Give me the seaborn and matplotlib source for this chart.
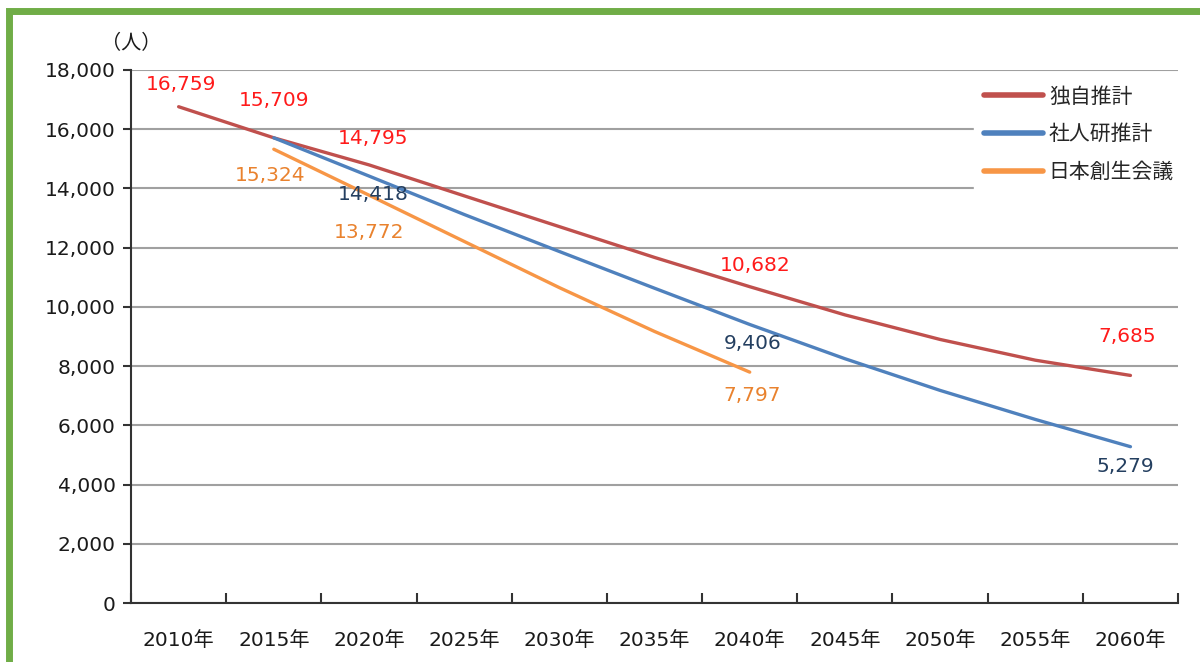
import numpy as np
import pandas as pd
import matplotlib
matplotlib.use('Agg')
import matplotlib.pyplot as plt
import seaborn as sns
from matplotlib.patches import Rectangle

# data (people)
years = [2010, 2015, 2020, 2025, 2030, 2035, 2040, 2045, 2050, 2055, 2060]
year_labels = [f'{y}年' for y in years]
dokuji = [16759, 15709, 14795, 13750, 12710, 11670, 10682, 9730, 8900, 8200, 7685]
shajinken = [np.nan, 15709, 14418, 13120, 11870, 10630, 9406, 8250, 7180, 6200, 5279]
sousei = [np.nan, 15324, 13772, 12210, 10650, 9170, 7797, np.nan, np.nan, np.nan, np.nan]
series_names = ['独自推計', '社人研推計', '日本創生会議']

df = pd.DataFrame({'year': years, series_names[0]: dokuji,
                   series_names[1]: shajinken, series_names[2]: sousei})
long = df.melt(id_vars='year', var_name='推計', value_name='人').dropna()

line_colors = ['#C0504D', '#4F81BD', '#F79646']
text_colors = ['#FF1A1A', '#243F60', '#E9822E']

# which values get a label and how far it sits from the point (points)
labels = [
    (0, 2010, (2, 16)), (0, 2015, (0, 27)), (0, 2020, (3, 19)),
    (0, 2040, (4, 15)), (0, 2060, (-2, 28)),
    (1, 2020, (3, -13)), (1, 2040, (2, -14)), (1, 2060, (-4, -14)),
    (2, 2015, (-3, -19)), (2, 2020, (0, -27)), (2, 2040, (2, -17)),
]

sns.set_style('white')
plt.rcParams['font.family'] = ['DejaVu Sans', 'Noto Sans CJK JP']

fig = plt.figure(figsize=(12, 6.62), dpi=100)
ax = fig.add_axes([0.1092, 0.0891, 0.8725, 0.8052])

sns.lineplot(data=long, x='year', y='人', hue='推計', hue_order=series_names,
             palette=line_colors, linewidth=2.4, ax=ax)

for s, yr, off in labels:
    val = df.loc[df.year == yr, series_names[s]].values[0]
    ax.annotate(f'{int(val):,}', (yr, val), xytext=off, textcoords='offset points',
                ha='center', va='center', fontsize=14.5, color=text_colors[s])

ax.set_xlim(2007.5, 2062.5)
ax.set_ylim(0, 18000)
ax.set_yticks(np.arange(0, 18001, 2000))
ax.set_yticklabels([f'{v:,}' for v in range(0, 18001, 2000)], fontsize=14.5, color='#1a1a1a')
ax.set_xticks(years)
ax.set_xticklabels(year_labels, fontsize=14.5, color='#1a1a1a')
ax.set_xticks(np.arange(2007.5, 2063, 5), minor=True)
ax.tick_params(axis='x', which='major', bottom=True, length=0, pad=20)
ax.tick_params(axis='x', which='minor', bottom=True, length=7, width=1.5,
               direction='in', color='#333333')
ax.tick_params(axis='y', left=True, length=6, width=1.5, color='#333333', pad=5)
ax.set_xlabel('')
ax.set_ylabel('')
ax.grid(axis='y', color='#A0A0A0', linewidth=1.5)
ax.set_axisbelow(True)
for side in ['top', 'right']:
    ax.spines[side].set_visible(False)
for side in ['left', 'bottom']:
    ax.spines[side].set_color('#333333')
    ax.spines[side].set_linewidth(1.5)

ax.text(0.0, 1.05, '（人）', transform=ax.transAxes, ha='center', va='center',
        fontsize=14.5, color='#1a1a1a')

leg = ax.legend(loc='upper left', bbox_to_anchor=(0.795, 1.008), fontsize=15,
                handlelength=2.8, handletextpad=0.3, labelspacing=0.85, frameon=True,
                fancybox=False, framealpha=1, edgecolor='white', borderpad=0.5)
for h in leg.get_lines():
    h.set_linewidth(4)

# green frame round the figure (right and bottom edges fall outside the picture)
fig.patches.append(Rectangle((0.0075, -0.05), 1.2, 1.033, transform=fig.transFigure,
                             fill=False, edgecolor='#70AD47', linewidth=5, zorder=10))

fig.savefig('out.png', dpi=100)
